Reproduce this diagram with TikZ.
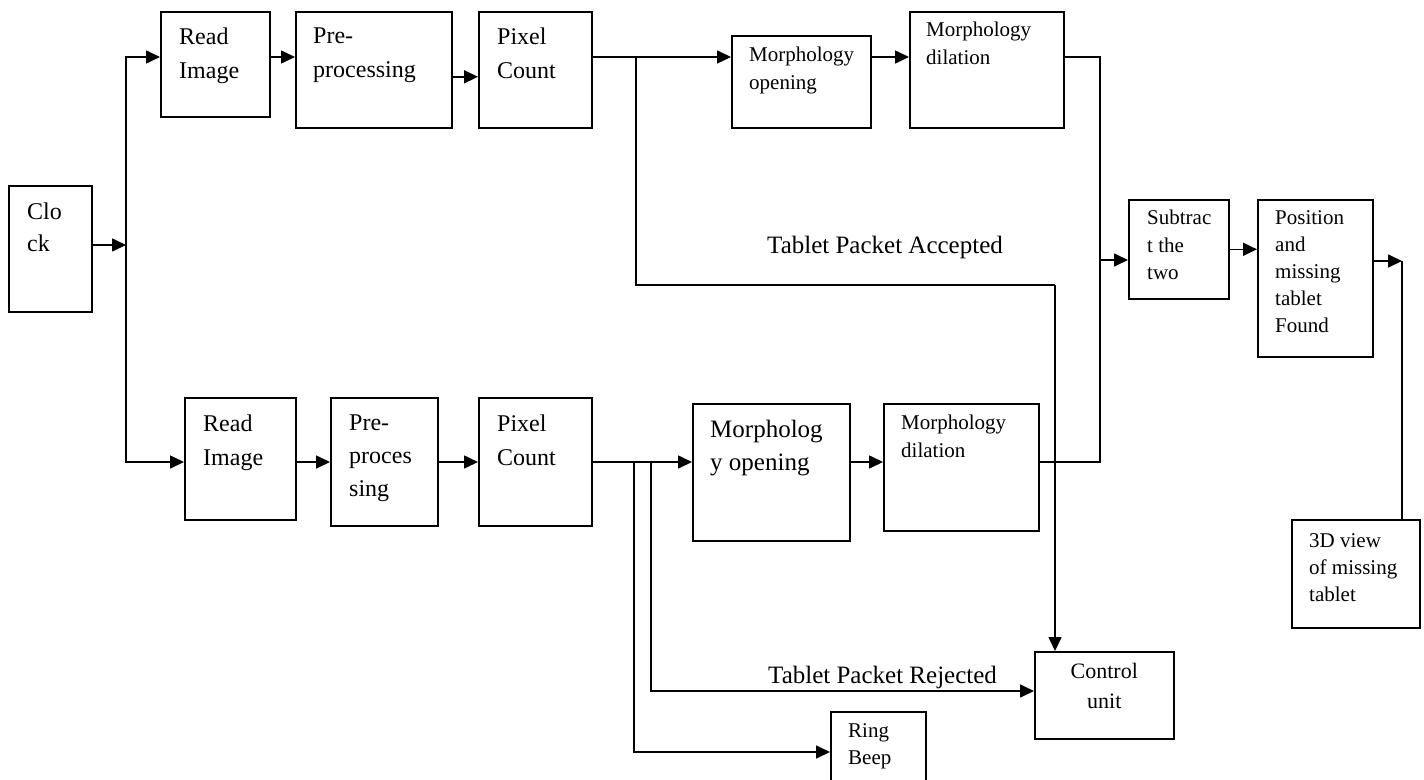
\documentclass[tikz,border=0pt]{standalone}
\usepackage{fontspec}
\setmainfont{Liberation Serif}
\usetikzlibrary{arrows.meta}

\tikzset{
  box/.style={draw,line width=1.6pt,anchor=north west,inner sep=0pt},
  big/.style={anchor=north west,align=left,inner sep=0pt,font=\fontsize{24}{34}\selectfont},
  small/.style={anchor=north west,align=left,inner sep=0pt,font=\fontsize{21}{28}\selectfont},
  wire/.style={line width=1.6pt},
  arr/.style={wire,-{Triangle[length=14pt,width=13pt]}}
}

\begin{document}
\begin{tikzpicture}[x=1pt,y=-1pt]
  \useasboundingbox (0,0) rectangle (1424,779);
  % rows where the arrows run
  \coordinate (rowA) at (0,57);
  \coordinate (rowB) at (0,462);

  % clock and the fork
  \node[box,minimum width=83,minimum height=126] (clock) at (8,185) {};
  \node[big,font=\fontsize{24}{32}\selectfont] (clockT) at ([shift={(19pt,-18pt)}]clock.north west) {Clo\\ck};
  \coordinate (fork) at (126,245);

  % upper row
  \node[box,minimum width=109,minimum height=105] (readA) at (160,11) {};
  \node[big] (readAT) at ([shift={(19pt,-17pt)}]readA.north west) {Read\\Image};
  \node[box,minimum width=156,minimum height=116] (preA) at (295,11) {};
  \node[big] (preAT) at ([shift={(18pt,-17pt)}]preA.north west) {Pre-\\processing};
  \node[box,minimum width=113,minimum height=116] (pixA) at (478,11) {};
  \node[big] (pixAT) at ([shift={(19pt,-17pt)}]pixA.north west) {Pixel\\Count};
  \node[box,minimum width=139,minimum height=92] (morA) at (731,35) {};
  \node[small] (morAT) at ([shift={(18pt,-12pt)}]morA.north west) {Morphology\\opening};
  \node[box,minimum width=154,minimum height=116] (dilA) at (909,11) {};
  \node[small] (dilAT) at ([shift={(17pt,-11pt)}]dilA.north west) {Morphology\\dilation};

  % lower row
  \node[box,minimum width=111,minimum height=122] (readB) at (184,397) {};
  \node[big] (readBT) at ([shift={(19pt,-18pt)}]readB.north west) {Read\\Image};
  \node[box,minimum width=107,minimum height=128] (preB) at (330,397) {};
  \node[big,font=\fontsize{24}{33}\selectfont] (preBT) at ([shift={(19pt,-18pt)}]preB.north west) {Pre-\\proces\\sing};
  \node[box,minimum width=113,minimum height=128] (pixB) at (478,397) {};
  \node[big] (pixBT) at ([shift={(19pt,-18pt)}]pixB.north west) {Pixel\\Count};
  \node[box,minimum width=157,minimum height=137] (morB) at (692,403) {};
  \node[big,font=\fontsize{25}{33}\selectfont] (morBT) at ([shift={(18pt,-17pt)}]morB.north west) {Morpholog\\y opening};
  \node[box,minimum width=155,minimum height=127] (dilB) at (883,403) {};
  \node[small] (dilBT) at ([shift={(18pt,-12pt)}]dilB.north west) {Morphology\\dilation};

  % right part
  \node[box,minimum width=100,minimum height=99] (sub) at (1128,199) {};
  \node[small,font=\fontsize{21}{27.5}\selectfont] (subT) at ([shift={(19pt,-11pt)}]sub.north west) {Subtrac\\t the\\two};
  \node[box,minimum width=115,minimum height=157] (pos) at (1257,199) {};
  \node[small,font=\fontsize{21}{27}\selectfont] (posT) at ([shift={(18pt,-11pt)}]pos.north west) {Position\\and\\missing\\tablet\\Found};
  \node[box,minimum width=128,minimum height=108] (view) at (1291,519) {};
  \node[small,font=\fontsize{21}{27}\selectfont] (viewT) at ([shift={(18pt,-14pt)}]view.north west) {3D view\\of missing\\tablet};
  \node[box,minimum width=139,minimum height=87] (ctrl) at (1034,651) {};
  \node[small,anchor=north,align=center,font=\fontsize{22}{30}\selectfont] (ctrlT) at ([yshift=-12pt]ctrl.north) {Control\\unit};
  \node[box,minimum width=95,minimum height=72] (ring) at (830,711) {};
  \node[small,font=\fontsize{21}{27}\selectfont] (ringT) at ([shift={(18pt,-12pt)}]ring.north west) {Ring\\Beep};

  % junction points
  \coordinate (accTap) at (636,57);
  \coordinate (accDrop) at (1055,285);
  \coordinate (merge) at (1100,260);
  \coordinate (beepTap) at (634,462);
  \coordinate (rejTap) at (651,462);
  \coordinate (outR) at (1402,261);

  % clock feeds both rows
  \draw[arr] (clock.east |- fork) -- (fork);
  \draw[arr] (fork) |- (readA.west |- rowA);
  \draw[arr] (fork) |- (readB.west |- rowB);

  % upper chain
  \draw[arr] (readA.east |- rowA) -- (preA.west |- rowA);
  \draw[arr] ([yshift=-7pt]preA.east) -- ([yshift=-7pt]preA.east -| pixA.west);
  \draw[arr] (pixA.east |- rowA) -- (morA.west |- rowA);
  \draw[arr] (morA.east |- rowA) -- (dilA.west |- rowA);
  \draw[wire] (accTap) |- (accDrop);
  \draw[arr] (accDrop) -- (accDrop |- ctrl.north);
  \node[anchor=base west,inner sep=0pt,font=\fontsize{25}{28}\selectfont] (accLbl) at (767,253) {Tablet Packet Accepted};

  % lower chain
  \draw[arr] (readB.east |- rowB) -- (preB.west |- rowB);
  \draw[arr] (preB.east |- rowB) -- (pixB.west |- rowB);
  \draw[arr] (pixB.east |- rowB) -- (morB.west |- rowB);
  \draw[arr] (morB.east |- rowB) -- (dilB.west |- rowB);
  \draw[arr] (beepTap) |- (ring.west |- 0,752);
  \draw[arr] (rejTap) |- (ctrl.west |- 0,691);
  \node[anchor=base west,inner sep=0pt,font=\fontsize{25}{28}\selectfont] (rejLbl) at (768,683) {Tablet Packet Rejected};

  % both dilations meet and go to the subtraction
  \draw[wire] (dilA.east |- rowA) -| (merge |- rowB) -- (dilB.east |- rowB);
  \draw[arr] (merge) -- (sub.west |- merge);
  \draw[arr] (sub.east) -- (sub.east -| pos.west);
  \draw[arr] (pos.east |- outR) -- (outR);
  \draw[wire] (outR) -- (outR |- view.north);
\end{tikzpicture}
\end{document}
